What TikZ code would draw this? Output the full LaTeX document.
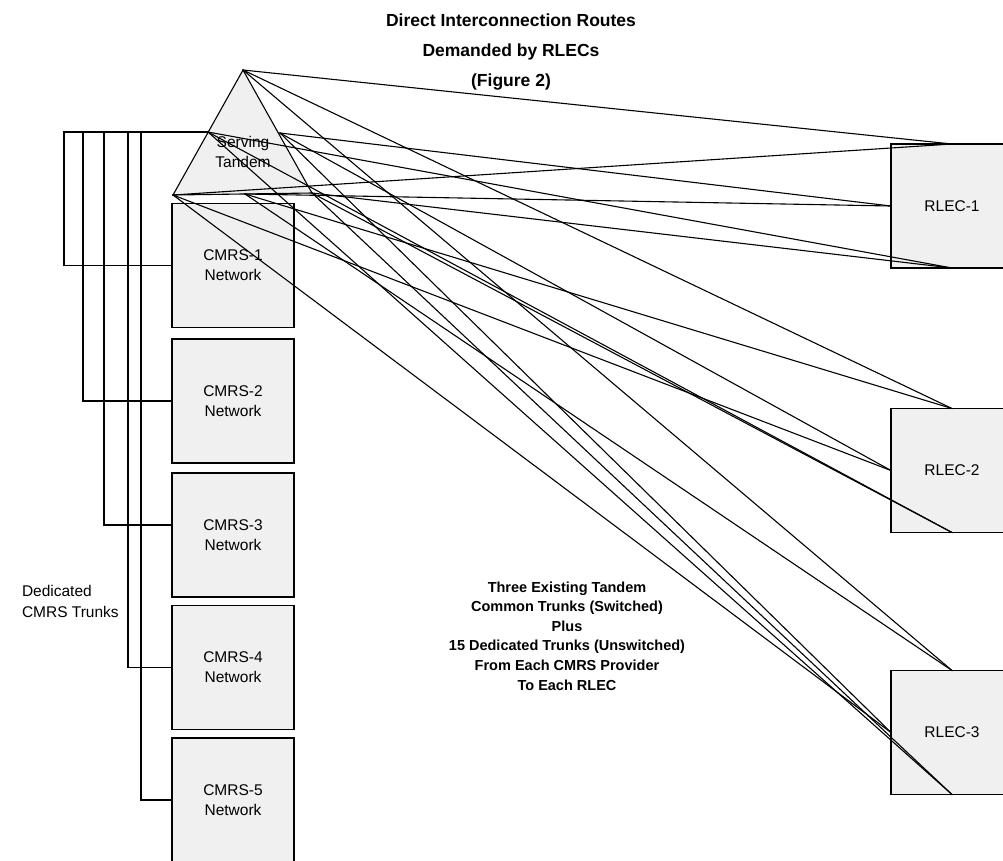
\documentclass[tikz,border=0pt]{standalone}
\usepackage{fontspec}
\setmainfont{Liberation Sans}
\usetikzlibrary{calc}

\begin{document}
\begin{tikzpicture}[x=1pt,y=-1pt,line cap=rect,
  netbox/.style={draw=custcol_0_0_0, line width=1.1pt, fill=custcol_f0_f0_f0, minimum width=122pt, minimum height=124pt, inner sep=0, outer sep=0, align=center, font=\fontsize{15.5pt}{20pt}\selectfont},
  trunk/.style={line width=1.1pt, custcol_0_0_0},
  plaintext/.style={inner sep=0, outer sep=0, custcol_0_0_0, font=\fontsize{15.5pt}{21pt}\selectfont},
  boldtext/.style={inner sep=0, outer sep=0, custcol_0_0_0, align=center, font=\bfseries\fontsize{14.5pt}{19.6pt}\selectfont}]
\definecolor{custcol_0_0_0}{RGB}{0, 0, 0}
\definecolor{custcol_f0_f0_f0}{RGB}{240, 240, 240}
\useasboundingbox (0,0) rectangle (1003,860);
\node[boldtext, font=\bfseries\fontsize{17.5pt}{30pt}\selectfont] (title) at (511,52) {Direct Interconnection Routes\\Demanded by RLECs\\(Figure 2)};
\node[netbox] (cmrs1) at (233,265.5) {CMRS-1\\Network};
\node[netbox] (cmrs2) at (233,401.0) {CMRS-2\\Network};
\node[netbox] (cmrs3) at (233,535.0) {CMRS-3\\Network};
\node[netbox] (cmrs4) at (233,667.5) {CMRS-4\\Network};
\node[netbox] (cmrs5) at (233,800.0) {CMRS-5\\Network};
\node[netbox] (rlec1) at (952,206.0) {RLEC-1};
\node[netbox] (rlec2) at (952,470.5) {RLEC-2};
\node[netbox] (rlec3) at (952,732.5) {RLEC-3};
\coordinate (apex) at (243,70);
\coordinate (baseL) at (173,195);
\coordinate (baseM) at (245,194);
\coordinate (baseR) at (312,193);
\coordinate (sideL) at (208,132);
\coordinate (sideR) at (280,133);
\filldraw [line width=1.1pt, custcol_0_0_0, fill=custcol_f0_f0_f0] (apex) -- (baseL) -- (baseR) -- cycle;
\node[plaintext, align=center, font=\fontsize{15.5pt}{20pt}\selectfont] (tandem) at (243,152) {Serving\\Tandem};
\coordinate (bus1) at (64,132);
\coordinate (bus2) at (83,132);
\coordinate (bus3) at (104,132);
\coordinate (bus4) at (128,132);
\coordinate (bus5) at (141,132);
\draw [trunk] (cmrs1.west) -| (bus1) -- (sideL);
\draw [trunk] (cmrs2.west) -| (bus2);
\draw [trunk] ([yshift=10pt]cmrs3.west) -| (bus3);
\draw [trunk] (cmrs4.west) -| (bus4);
\draw [trunk] (cmrs5.west) -| (bus5);
\foreach \r in {rlec1,rlec2,rlec3} {
  \draw [trunk] (apex) -- (\r.north);
  \draw [trunk] (sideR) -- (\r.west);
  \draw [trunk] (sideL) -- (\r.south);
  \draw [trunk] (baseR) -- (\r.south);
}
\draw [trunk] (baseL) -- (rlec1.north);
\draw [trunk] (baseL) -- (rlec2.west);
\draw [trunk] (baseL) -- (rlec3.west);
\draw [trunk] (baseM) -- (rlec1.west);
\draw [trunk] (baseM) -- (rlec2.north);
\draw [trunk] (baseM) -- (rlec3.north);
\node[plaintext, align=left, anchor=west] (dedicated) at (22,601) {Dedicated\\CMRS Trunks};
\node[boldtext] (summary) at (567,636) {Three Existing Tandem\\Common Trunks (Switched)\\Plus\\15 Dedicated Trunks (Unswitched)\\From Each CMRS Provider\\To Each RLEC};
\end{tikzpicture}
\end{document}
